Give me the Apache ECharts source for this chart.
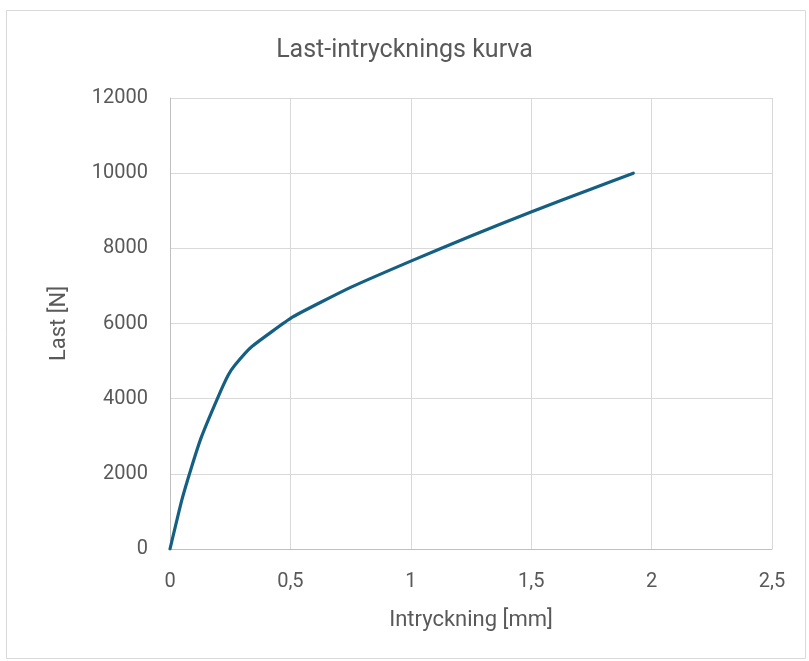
<!DOCTYPE html>
<html><head><meta charset="utf-8">
<script src="https://cdn.jsdelivr.net/npm/echarts@6/dist/echarts.min.js"></script>
<style>html,body{margin:0;padding:0;background:#fff}#c{width:809px;height:661px}</style>
</head><body><div id="c"></div>
<script>
const xValues = [0, 0.049, 0.09, 0.131, 0.2, 0.242, 0.27, 0.339, 0.512, 0.75, 1.0, 1.25, 1.502, 1.75, 1.924];
const yValues = [0, 1300, 2190, 2990, 4050, 4630, 4895, 5380, 6180, 6960, 7660, 8330, 8975, 9580, 10000];
const titleText = 'Last-intrycknings kurva';
const xName = 'Intryckning [mm]';
const yName = 'Last [N]';
const font = 'Roboto, "Noto Sans", sans-serif';
const chart = echarts.init(document.getElementById('c'));
chart.setOption({
  animation: false,
  graphic: [{type:'rect', shape:{x:6.5,y:10.5,width:799,height:648}, style:{fill:'none',stroke:'#d9d9d9',lineWidth:1}}],
  title: {text: titleText, left: 'center', top: 33, textStyle:{fontFamily:font, fontSize:25, fontWeight:'normal', color:'#595959'}},
  grid: {left:170, right:37, top:98, bottom:112},
  xAxis: {type:'value', min:0, max:2.5, interval:0.5, name:xName, nameLocation:'middle', nameGap:60,
    nameTextStyle:{fontFamily:font,fontSize:22,color:'#595959'},
    axisLine:{show:true,lineStyle:{color:'#bfbfbf'}}, axisTick:{show:false},
    axisLabel:{fontFamily:font,fontSize:20,color:'#595959',margin:23,formatter:v=>String(v).replace('.',',')},
    splitLine:{show:true,lineStyle:{color:'#d9d9d9',width:1}}},
  yAxis: {type:'value', min:0, max:12000, interval:2000, name:yName, nameLocation:'middle', nameGap:100,
    nameTextStyle:{fontFamily:font,fontSize:22,color:'#595959'},
    axisLine:{show:true,lineStyle:{color:'#bfbfbf'}}, axisTick:{show:false},
    axisLabel:{fontFamily:font,fontSize:20,color:'#595959',margin:22,formatter:v=>String(v)},
    splitLine:{show:true,lineStyle:{color:'#d9d9d9',width:1}}},
  series: [{type:'line', data: xValues.map((x,i)=>[x,yValues[i]]), showSymbol:false, smooth:0.15,
    lineStyle:{color:'#156082', width:3.2, cap:'round', join:'round'}, itemStyle:{color:'#156082'}}]
});
</script></body></html>
